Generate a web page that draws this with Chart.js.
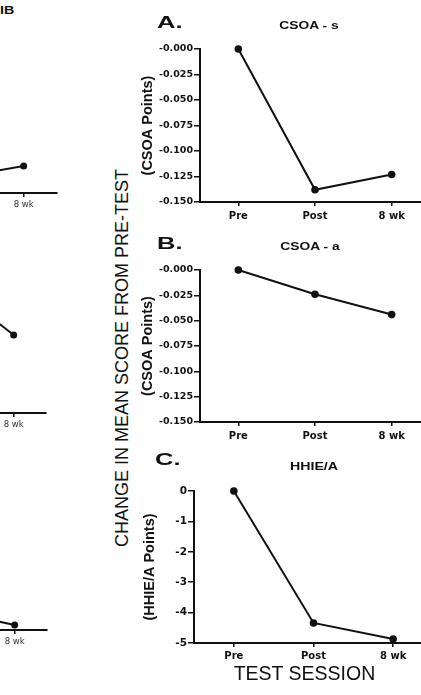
<!DOCTYPE html>
<html>
<head>
<meta charset="utf-8">
<script src="https://cdn.jsdelivr.net/npm/chart.js@4.4.1/dist/chart.umd.min.js"></script>
<style>
html,body{margin:0;padding:0;background:#fff;}
#wrap{position:relative;width:421px;height:695px;overflow:hidden;background:#fff;}
canvas{position:absolute;}
.t{position:absolute;white-space:nowrap;color:#111;font-family:"Liberation Sans",Arial,sans-serif;line-height:1;}
</style>
</head>
<body>
<div id="wrap">
  <canvas id="cL1"></canvas>
  <canvas id="cL2"></canvas>
  <canvas id="cL3"></canvas>
  <canvas id="cA"></canvas>
  <canvas id="cB"></canvas>
  <canvas id="cC"></canvas>

  <div class="t" style="left:0px;top:5px;font-size:11px;font-weight:bold;transform:scaleX(1.3);transform-origin:left center;">IB</div>

  <div class="t" style="left:157px;top:13.5px;font-size:17px;font-weight:bold;transform:scaleX(1.5);transform-origin:left center;">A.</div>
  <div class="t" style="left:209px;width:200px;text-align:center;top:21.3px;font-size:10px;font-weight:bold;transform:scaleX(1.38);transform-origin:center center;">CSOA - s</div>

  <div class="t" style="left:157px;top:234.5px;font-size:17px;font-weight:bold;transform:scaleX(1.5);transform-origin:left center;">B.</div>
  <div class="t" style="left:210px;width:200px;text-align:center;top:242px;font-size:10px;font-weight:bold;transform:scaleX(1.38);transform-origin:center center;">CSOA - a</div>

  <div class="t" style="left:155px;top:450.5px;font-size:17px;font-weight:bold;transform:scaleX(1.5);transform-origin:left center;">C.</div>
  <div class="t" style="left:214px;width:200px;text-align:center;top:461.7px;font-size:10px;font-weight:bold;transform:scaleX(1.42);transform-origin:center center;">HHIE/A</div>

  <div class="t" style="left:122px;top:358px;font-size:18px;transform:translate(-50%,-50%) rotate(-90deg);">CHANGE IN MEAN SCORE FROM PRE-TEST</div>
  <div class="t" style="left:304.5px;top:673.7px;font-size:19.5px;transform:translate(-50%,-50%);">TEST SESSION</div>
</div>

<script>
// ---- data ----
const categories = ['Pre', 'Post', '8 wk'];
const csoaS = [0, -0.138, -0.123];
const csoaA = [0, -0.024, -0.044];
const hhieA = [0, -4.34, -4.87];
const csoaTicks = ['-0.000', '-0.025', '-0.050', '-0.075', '-0.100', '-0.125', '-0.150'];
const hhieTicks = ['0', '-1', '-2', '-3', '-4', '-5'];
// neighbouring (cropped) panels on the left edge; only the 8 wk end is visible
const leftTop = [0, -4.49, -4.10];
const leftMid = [0, -0.71, -2.40];
const leftBot = [0, -4.37, -4.83];

const INK = '#111';

function makeChart(id, values, o) {
  const cv = document.getElementById(id);
  cv.width = o.w; cv.height = o.h;
  cv.style.left = o.left + 'px'; cv.style.top = o.top + 'px';
  cv.style.width = o.w + 'px'; cv.style.height = o.h + 'px';
  const yScale = o.y ? {
    display: true,
    min: o.y.min, max: o.y.max,
    ticks: {
      stepSize: o.y.step,
      autoSkip: false,
      color: INK,
      padding: 1,
      font: { family: 'DejaVu Sans', weight: 'bold', size: o.y.fontSize },
      callback: (v) => o.y.labels[Math.round(Math.abs(v) / o.y.step)]
    },
    grid: { display: true, drawOnChartArea: false, drawTicks: true, tickLength: 6, color: INK, lineWidth: 1.5 },
    border: { display: true, color: INK, width: 2 },
    title: { display: true, text: o.y.title, color: INK, padding: 0,
             font: { family: 'Liberation Sans', weight: 'bold', size: 14.5, lineHeight: 1.2 } },
    afterFit: (s) => { s.width = o.yW; }
  } : { display: false, min: o.ymin, max: o.ymax };

  return new Chart(cv, {
    type: 'line',
    data: {
      labels: categories,
      datasets: [{
        data: values,
        borderColor: INK,
        backgroundColor: INK,
        borderWidth: o.lw,
        pointRadius: o.pr,
        pointBackgroundColor: INK,
        pointBorderColor: INK,
        pointBorderWidth: 0,
        tension: 0,
        fill: false,
        clip: false
      }]
    },
    options: {
      responsive: false,
      animation: false,
      devicePixelRatio: 1,
      layout: { padding: o.padding },
      plugins: { legend: { display: false }, tooltip: { enabled: false }, title: { display: false } },
      scales: {
        x: {
          type: 'category',
          offset: true,
          grid: { display: true, offset: false, drawOnChartArea: false, drawTicks: true, tickLength: 4, color: INK, lineWidth: 1.5 },
          border: { display: true, color: INK, width: 2 },
          ticks: { color: o.xColor || INK, padding: o.xPad, autoSkip: false, maxRotation: 0,
                   font: o.xFont },
          afterFit: (s) => { s.height = o.xH; }
        },
        y: yScale
      }
    }
  });
}

const xBold = { family: 'DejaVu Sans', weight: 'bold', size: 10 };
const xSmall = { family: 'DejaVu Sans', weight: 'normal', size: 8.5 };

// right-hand panels
makeChart('cA', csoaS, {
  left: 139, top: 0, w: 300, h: 227, padding: { left: 0, top: 49, right: 9, bottom: 0 },
  yW: 61, xH: 25, xPad: 4, xFont: xBold, lw: 2, pr: 3.8,
  y: { min: -0.15, max: 0, step: 0.025, labels: csoaTicks, fontSize: 9.5, title: '(CSOA Points)' }
});
makeChart('cB', csoaA, {
  left: 139, top: 221, w: 300, h: 226, padding: { left: 0, top: 49, right: 9, bottom: 0 },
  yW: 61, xH: 25, xPad: 4, xFont: xBold, lw: 2, pr: 3.8,
  y: { min: -0.15, max: 0, step: 0.025, labels: csoaTicks, fontSize: 9.5, title: '(CSOA Points)' }
});
makeChart('cC', hhieA, {
  left: 141, top: 450, w: 300, h: 218, padding: { left: 0, top: 41, right: 8, bottom: 0 },
  yW: 53, xH: 25, xPad: 3, xFont: xBold, lw: 2, pr: 3.8,
  y: { min: -5, max: 0, step: 1, labels: hhieTicks, fontSize: 10.5, title: '(HHIE/A Points)' }
});

// cropped neighbouring panels at the left edge
makeChart('cL1', leftTop, {
  left: -147, top: 33, w: 210, h: 180, padding: { left: 0, top: 10, right: 6, bottom: 0 },
  xH: 20, xPad: 3, xFont: xSmall, xColor: '#333', lw: 2, pr: 3.5, ymin: -5, ymax: 0
});
makeChart('cL2', leftMid, {
  left: -152, top: 253, w: 204, h: 180, padding: { left: 0, top: 10, right: 6, bottom: 0 },
  xH: 20, xPad: 3, xFont: xSmall, xColor: '#333', lw: 2, pr: 3.5, ymin: -5, ymax: 0
});
makeChart('cL3', leftBot, {
  left: -151, top: 470, w: 204, h: 180, padding: { left: 0, top: 10, right: 6, bottom: 0 },
  xH: 20, xPad: 3, xFont: xSmall, xColor: '#333', lw: 2, pr: 3.5, ymin: -5, ymax: 0
});
</script>
</body>
</html>
